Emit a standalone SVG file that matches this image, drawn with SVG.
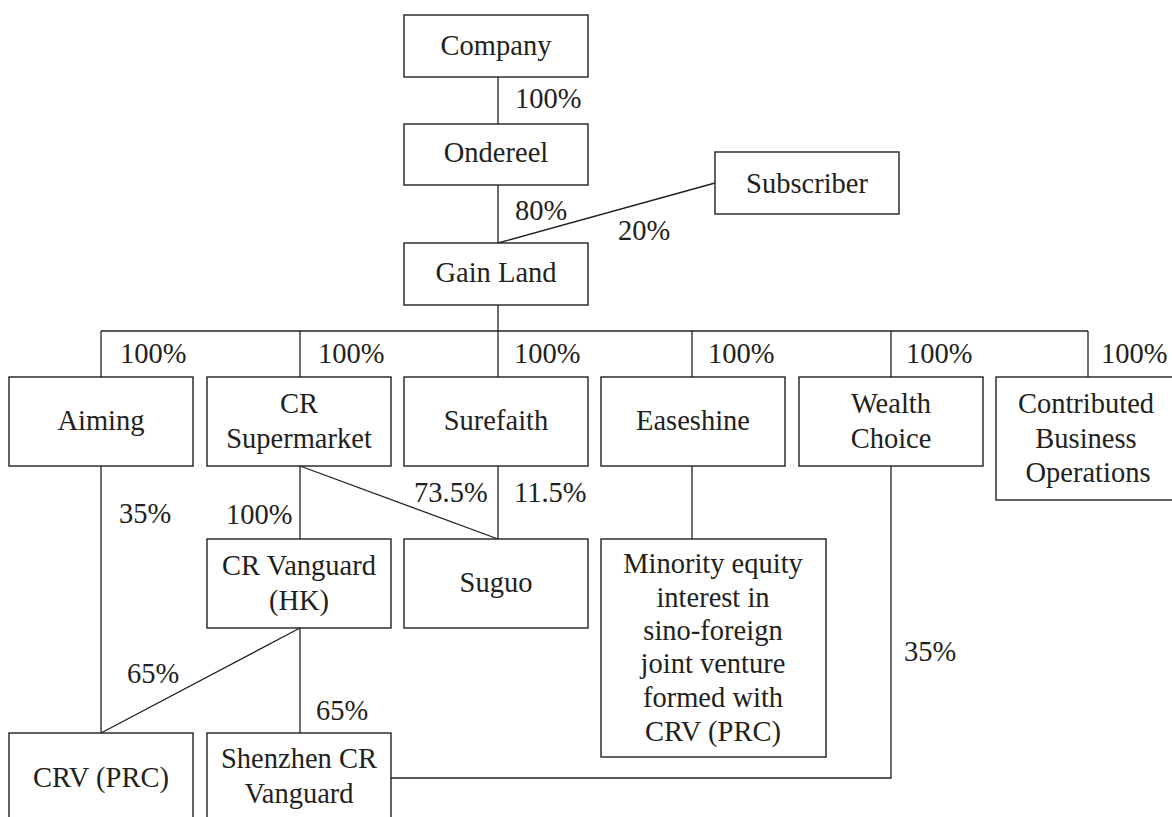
<svg xmlns="http://www.w3.org/2000/svg" width="1172" height="817" viewBox="0 0 1172 817">
<style>
.n rect{fill:#fff;stroke:#231f20;stroke-width:1.4}
.c line,.c polyline{stroke:#231f20;stroke-width:1.3;fill:none}
text{font-family:"Liberation Serif","Times New Roman","DejaVu Serif",serif;font-size:28.5px;fill:#231f20}
.m{text-anchor:middle}
</style>
<rect width="1172" height="817" fill="#fff"/>
<g class="c" id="connectors">
<line x1="498" y1="77" x2="498" y2="124"/>
<line x1="498" y1="185" x2="498" y2="243"/>
<line x1="715" y1="183" x2="498" y2="243"/>
<line x1="498" y1="305" x2="498" y2="331"/>
<line x1="101" y1="331" x2="1088" y2="331"/>
<line x1="101" y1="331" x2="101" y2="377"/>
<line x1="300" y1="331" x2="300" y2="377"/>
<line x1="498" y1="331" x2="498" y2="377"/>
<line x1="692" y1="331" x2="692" y2="377"/>
<line x1="891" y1="331" x2="891" y2="377"/>
<line x1="1088" y1="331" x2="1088" y2="377"/>
<line x1="300" y1="466" x2="300" y2="539"/>
<line x1="300" y1="466" x2="498" y2="539"/>
<line x1="498" y1="466" x2="498" y2="539"/>
<line x1="692" y1="466" x2="692" y2="539"/>
<line x1="101" y1="466" x2="101" y2="733"/>
<line x1="300" y1="628" x2="101" y2="733"/>
<line x1="300" y1="628" x2="300" y2="733"/>
<polyline points="891,466 891,778 391,778"/>
</g>
<g id="labels">
<text x="515" y="108">100%</text>
<text x="515" y="220">80%</text>
<text x="618" y="240">20%</text>
<text x="120" y="363">100%</text>
<text x="318" y="363">100%</text>
<text x="514" y="363">100%</text>
<text x="708" y="363">100%</text>
<text x="906" y="363">100%</text>
<text x="1101" y="363">100%</text>
<text x="119" y="523">35%</text>
<text x="226" y="524">100%</text>
<text x="414" y="502">73.5%</text>
<text x="514" y="502">11.5%</text>
<text x="127" y="683">65%</text>
<text x="316" y="720">65%</text>
<text x="904" y="661">35%</text>
</g>
<g class="n" id="company"><rect x="404" y="15" width="184" height="62"/><text class="m" x="496" y="55">Company</text></g>
<g class="n" id="ondereel"><rect x="404" y="124" width="184" height="61"/><text class="m" x="496" y="162">Ondereel</text></g>
<g class="n" id="subscriber"><rect x="715" y="152" width="184" height="62"/><text class="m" x="807" y="193">Subscriber</text></g>
<g class="n" id="gainland"><rect x="404" y="243" width="184" height="62"/><text class="m" x="496" y="282">Gain Land</text></g>
<g class="n" id="aiming"><rect x="9" y="377" width="184" height="89"/><text class="m" x="101" y="430">Aiming</text></g>
<g class="n" id="crsupermarket"><rect x="207" y="377" width="184" height="89"/><text class="m" x="299" y="413">CR</text><text class="m" x="299" y="448">Supermarket</text></g>
<g class="n" id="surefaith"><rect x="404" y="377" width="184" height="89"/><text class="m" x="496" y="430">Surefaith</text></g>
<g class="n" id="easeshine"><rect x="601" y="377" width="184" height="89"/><text class="m" x="693" y="430">Easeshine</text></g>
<g class="n" id="wealthchoice"><rect x="799" y="377" width="184" height="89"/><text class="m" x="891" y="413">Wealth</text><text class="m" x="891" y="448">Choice</text></g>
<g class="n" id="contributed"><rect x="996" y="377" width="184" height="123"/><text class="m" x="1086" y="413">Contributed</text><text class="m" x="1086" y="448">Business</text><text class="m" x="1088" y="482">Operations</text></g>
<g class="n" id="crvanguardhk"><rect x="207" y="539" width="184" height="89"/><text class="m" x="299" y="575">CR Vanguard</text><text class="m" x="299" y="610">(HK)</text></g>
<g class="n" id="suguo"><rect x="404" y="539" width="184" height="89"/><text class="m" x="496" y="592">Suguo</text></g>
<g class="n" id="minority"><rect x="601" y="539" width="225" height="218"/><text class="m" x="713" y="573">Minority equity</text><text class="m" x="713" y="607">interest in</text><text class="m" x="713" y="640">sino-foreign</text><text class="m" x="713" y="673">joint venture</text><text class="m" x="713" y="707">formed with</text><text class="m" x="713" y="741">CRV (PRC)</text></g>
<g class="n" id="crvprc"><rect x="9" y="733" width="184" height="100"/><text class="m" x="101" y="787">CRV (PRC)</text></g>
<g class="n" id="shenzhen"><rect x="207" y="733" width="184" height="100"/><text class="m" x="299" y="768">Shenzhen CR</text><text class="m" x="299" y="803">Vanguard</text></g>
</svg>
